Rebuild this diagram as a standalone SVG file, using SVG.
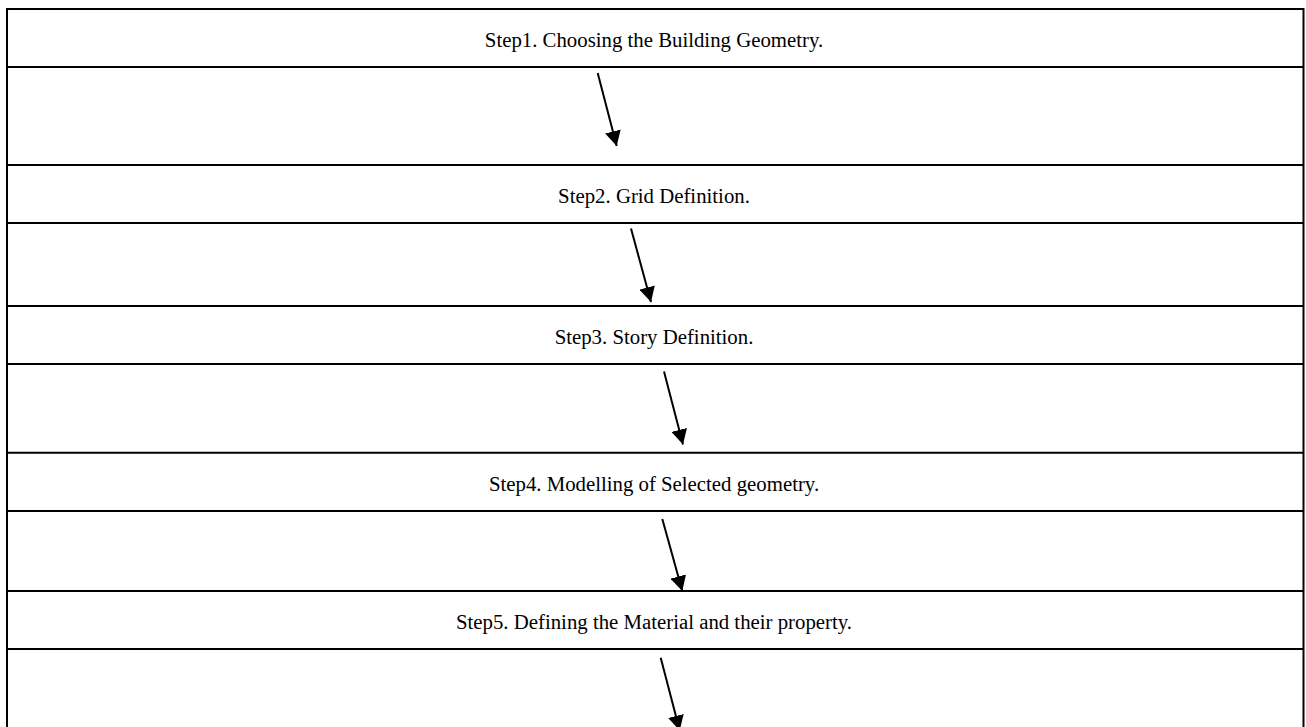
<svg xmlns="http://www.w3.org/2000/svg" width="1306" height="727" viewBox="0 0 1306 727">
  <style>
    .sep { stroke: #000; stroke-width: 2; fill: none; }
    .lbl { font-family: "Liberation Serif", "Times New Roman", serif; font-size: 20.8px; fill: #000; text-anchor: middle; }
    .conn { stroke: #000; stroke-width: 2; fill: none; marker-end: url(#ah); }
  </style>
  <defs>
    <marker id="ah" markerUnits="userSpaceOnUse" viewBox="0 0 15 16" markerWidth="15" markerHeight="16" refX="15" refY="8" orient="auto">
      <path d="M0,0 L15,8 L0,16 z" fill="#000"/>
    </marker>
  </defs>
  <rect x="0" y="0" width="1306" height="727" fill="#fff"/>
  <g id="frame">
    <rect class="sep" x="7" y="9" width="1296.5" height="740"/>
  </g>
  <g id="step1">
    <text class="lbl" x="654" y="46.5">Step1. Choosing the Building Geometry.</text>
    <line class="sep" x1="7" y1="67" x2="1303.5" y2="67"/>
  </g>
  <g id="step2">
    <line class="sep" x1="7" y1="165" x2="1303.5" y2="165"/>
    <text class="lbl" x="654" y="202.5">Step2. Grid Definition.</text>
    <line class="sep" x1="7" y1="223" x2="1303.5" y2="223"/>
  </g>
  <g id="step3">
    <line class="sep" x1="7" y1="306" x2="1303.5" y2="306"/>
    <text class="lbl" x="654" y="343.5">Step3. Story Definition.</text>
    <line class="sep" x1="7" y1="364" x2="1303.5" y2="364"/>
  </g>
  <g id="step4">
    <line class="sep" x1="7" y1="452.7" x2="1303.5" y2="452.7"/>
    <text class="lbl" x="654" y="490.5">Step4. Modelling of Selected geometry.</text>
    <line class="sep" x1="7" y1="511" x2="1303.5" y2="511"/>
  </g>
  <g id="step5">
    <line class="sep" x1="7" y1="591" x2="1303.5" y2="591"/>
    <text class="lbl" x="654" y="628.5">Step5. Defining the Material and their property.</text>
    <line class="sep" x1="7" y1="649" x2="1303.5" y2="649"/>
  </g>
  <g id="connectors">
    <line class="conn" x1="597.7" y1="73" x2="616.7" y2="146"/>
    <line class="conn" x1="631" y1="228.5" x2="651" y2="302"/>
    <line class="conn" x1="664" y1="371.5" x2="683" y2="444.5"/>
    <line class="conn" x1="662.3" y1="519" x2="682.3" y2="591"/>
    <line class="conn" x1="660.7" y1="657.7" x2="679.7" y2="730.5"/>
  </g>
</svg>
